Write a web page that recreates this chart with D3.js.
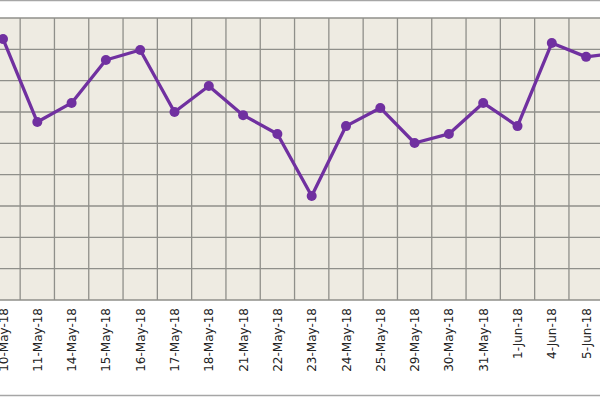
<!DOCTYPE html>
<html>
<head>
<meta charset="utf-8">
<script src="https://cdn.jsdelivr.net/npm/d3@7"></script>
<style>
  body { margin: 0; background: #fff; }
  text { font-family: "DejaVu Sans", sans-serif; }
</style>
</head>
<body>
<svg id="chart" width="600" height="400"></svg>
<script>
// dates shown on the axis (last one sits just past the right edge)
const categories = ["10-May-18", "11-May-18", "14-May-18", "15-May-18", "16-May-18", "17-May-18",
    "18-May-18", "21-May-18", "22-May-18", "23-May-18", "24-May-18", "25-May-18",
    "29-May-18", "30-May-18", "31-May-18", "1-Jun-18", "4-Jun-18", "5-Jun-18", "6-Jun-18"];
const values = [8.33, 5.68, 6.29, 7.66, 7.98, 6.0, 6.83, 5.9, 5.3, 3.32, 5.55, 6.13,
    5.01, 5.3, 6.29, 5.55, 8.2, 7.76, 7.9];
const yTicks = [0, 1, 2, 3, 4, 5, 6, 7, 8, 9];

let svg = d3.select("#chart");
let step = 34.3;
let x = d3.scalePoint()
    .domain(categories)
    .range([3, 3 + step * (categories.length - 1)]);
let y = d3.scaleLinear().domain([0, 9]).range([300, 18]);

// outer frame lines
svg.append("line").attr("x1", 0).attr("x2", 600).attr("y1", 0.5).attr("y2", 0.5)
    .attr("stroke", "#a6a6a6").attr("stroke-width", 1.5);
svg.append("line").attr("x1", 0).attr("x2", 600).attr("y1", 395.5).attr("y2", 395.5)
    .attr("stroke", "#a6a6a6").attr("stroke-width", 1.5);

// plot area
svg.append("rect").attr("x", 0).attr("y", y(9)).attr("width", 600).attr("height", y(0) - y(9))
    .attr("fill", "#eeebe2");

let grid = svg.append("g").attr("stroke", "#8f8f8a").attr("stroke-width", 1.3);
grid.selectAll(".h").data(yTicks).join("line")
    .attr("x1", 0).attr("x2", 600)
    .attr("y1", d => y(d)).attr("y2", d => y(d));
grid.selectAll(".v").data(categories).join("line")
    .attr("x1", d => x(d) + step / 2).attr("x2", d => x(d) + step / 2)
    .attr("y1", y(9)).attr("y2", y(0));

// x labels
svg.append("g").selectAll("text").data(categories).join("text")
    .attr("transform", d => `translate(${x(d) + 4.5},308) rotate(-90)`)
    .attr("text-anchor", "end")
    .attr("font-size", 12)
    .attr("fill", "#222")
    .text(d => d);

let line = d3.line().x((d, i) => x(categories[i])).y(d => y(d));
svg.append("path").datum(values)
    .attr("d", line)
    .attr("fill", "none")
    .attr("stroke", "#7030a0")
    .attr("stroke-width", 3.3)
    .attr("stroke-linejoin", "round");
svg.append("g").selectAll("circle").data(values).join("circle")
    .attr("cx", (d, i) => x(categories[i]))
    .attr("cy", d => y(d))
    .attr("r", 5)
    .attr("fill", "#7030a0");
</script>
</body>
</html>
